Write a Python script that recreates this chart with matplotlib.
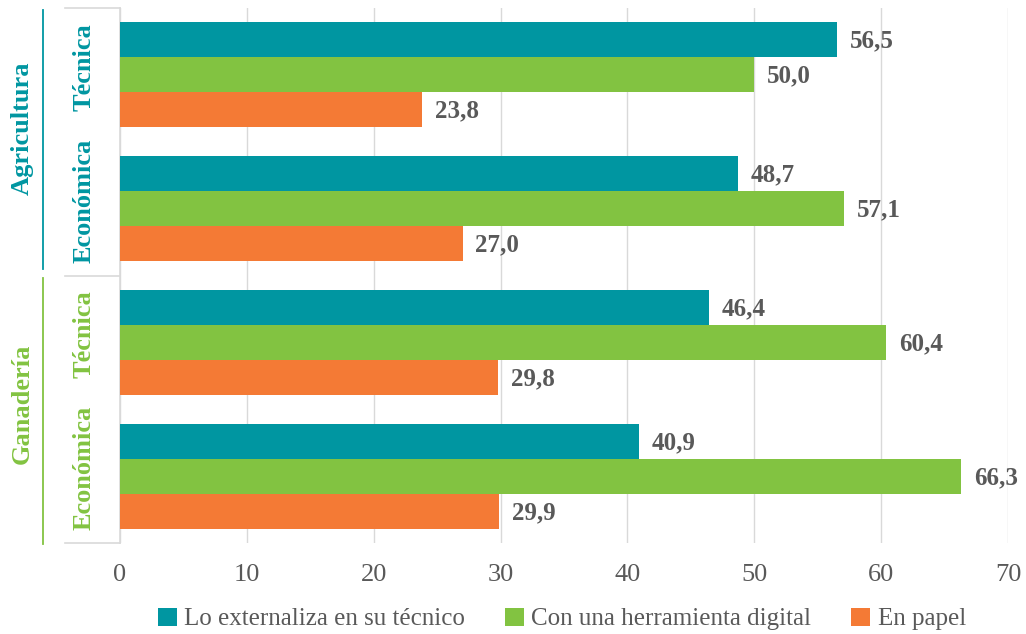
import matplotlib
matplotlib.use("Agg")
import matplotlib.pyplot as plt
import numpy as np

groups = ["Agricultura", "Ganadería"]
categories = ["Técnica", "Económica", "Técnica", "Económica"]
cat_group = [0, 0, 1, 1]
series_names = ["Lo externaliza en su técnico", "Con una herramienta digital", "En papel"]
externaliza = [56.5, 48.7, 46.4, 40.9]
digital = [50.0, 57.1, 60.4, 66.3]
papel = [23.8, 27.0, 29.8, 29.9]
xticks = [0, 10, 20, 30, 40, 50, 60, 70]

colors = ["#0096A1", "#82C341", "#F47A35"]
group_colors = ["#0096A1", "#82C341"]
grey = "#595959"
light = "#D9D9D9"
font = "Liberation Serif"

fig = plt.figure(figsize=(10.26, 6.34), dpi=100)
W, H = 1026, 634
ax = fig.add_axes([120 / W, 1 - 543 / H, 888 / W, 535 / H])

y = np.arange(len(categories))
bh = 0.262
data = [externaliza, digital, papel]
bars_all = []
for i, (vals, c, name) in enumerate(zip(data, colors, series_names)):
    b = ax.barh(y + (i - 1) * bh, vals, height=bh, color=c, label=name, zorder=3)
    bars_all.append(b)
    for yy, v in zip(y + (i - 1) * bh, vals):
        ax.text(v + 1.0, yy + 0.01, f"{v:.1f}".replace(".", ","), va="center", ha="left",
                fontsize=18, fontweight="bold", color=grey, family=font, zorder=4)

ax.set_xlim(0, 70)
ax.set_ylim(3.5, -0.5)
ax.set_xticks(xticks)
ax.set_xticklabels([str(t) for t in xticks], fontsize=19, color=grey, family=font)
ax.tick_params(axis="x", length=0, pad=15)
ax.set_yticks([])
ax.grid(axis="x", color=light, linewidth=1, zorder=0)
for s in ["top", "right", "bottom"]:
    ax.spines[s].set_visible(False)
ax.spines["left"].set_color(light)
ax.spines["left"].set_linewidth(1.2)

# left box lines
x_box = (65 - 120) / 888
for yd in [-0.5, 1.5, 3.5]:
    ax.plot([x_box, 0], [yd, yd], transform=ax.get_yaxis_transform(), color=light,
            lw=1.2, clip_on=False)

# category labels
x_cat = (84 - 120) / 888
for yy, cat, g in zip(y, categories, cat_group):
    ax.text(x_cat, yy - 0.06, cat, rotation=90, ha="center", va="center", fontsize=19,
            fontweight="bold", color=group_colors[g], family=font,
            transform=ax.get_yaxis_transform())

# group labels and lines
x_gl = (43 - 120) / 888
x_gt = (22 - 120) / 888
group_spans = [(-0.485, 1.448), (1.522, 3.507)]
group_label_y = [0.40, 2.46]
for g, (a, b) in enumerate(group_spans):
    ax.plot([x_gl, x_gl], [a, b], transform=ax.get_yaxis_transform(),
            color=group_colors[g], lw=1.3, clip_on=False)
    ax.text(x_gt, group_label_y[g], groups[g], rotation=90, ha="center", va="center",
            fontsize=19, fontweight="bold", color=group_colors[g], family=font,
            transform=ax.get_yaxis_transform())

leg = fig.legend(handles=bars_all, labels=series_names, loc="center",
                 bbox_to_anchor=(562 / W, 1 - 619 / H), ncol=3, frameon=False,
                 prop={"family": font, "size": 18}, handlelength=0.75,
                 handleheight=0.75, handletextpad=0.3, columnspacing=1.6)
for t in leg.get_texts():
    t.set_color(grey)

fig.savefig("out.png", dpi=100)
